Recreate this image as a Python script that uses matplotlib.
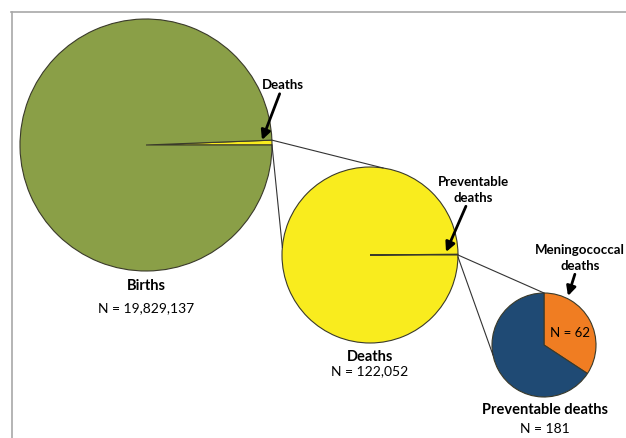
import numpy as np
import matplotlib
matplotlib.use("Agg")
import matplotlib.pyplot as plt

plt.rcParams['font.family'] = ['Lato', 'DejaVu Sans']

# Data
births_total = 19829137
deaths_total = 122052
preventable_total = 181
meningococcal = 62

births_labels = ["Births", "N = 19,829,137"]
deaths_labels = ["Deaths", "N = 122,052"]
prev_labels = ["Preventable deaths", "N = 181"]

W, H = 626, 438
fig = plt.figure(figsize=(W / 100, H / 100), dpi=100)
ax = fig.add_axes([0, 0, 1, 1])

def Y(y):
    return H - y

green = "#8A9F47"
yellow = "#F9EC1E"
navy = "#1F4A74"
orange = "#F07D22"
edge = "#3a3a2a"

c1, r1 = (146, Y(145)), 126
c2, r2 = (370, Y(255)), 88
c3, r3 = (544, Y(345)), 52

wp = dict(edgecolor=edge, linewidth=0.8)
ax.pie([deaths_total, births_total - deaths_total], colors=[yellow, green],
       startangle=0, counterclock=True, center=c1, radius=r1, wedgeprops=wp, frame=True)
ax.pie([preventable_total, deaths_total - preventable_total], colors=[yellow, yellow],
       startangle=0, counterclock=True, center=c2, radius=r2,
       wedgeprops=dict(edgecolor=edge, linewidth=0.8), frame=True)
ax.pie([meningococcal, preventable_total - meningococcal], colors=[orange, navy],
       startangle=90, counterclock=False, center=c3, radius=r3, wedgeprops=wp, frame=True)

def pt(c, r, ang):
    a = np.deg2rad(ang)
    return c[0] + r * np.cos(a), c[1] + r * np.sin(a)

ang_d = deaths_total / births_total * 360
lc = "#333333"
# connectors births -> deaths
p1 = pt(c1, r1, ang_d); q1 = pt(c2, r2, 81.5)
p2 = pt(c1, r1, 0); q2 = pt(c2, r2, 175)
ax.plot([p1[0], q1[0]], [p1[1], q1[1]], color=lc, lw=0.8)
ax.plot([p2[0], q2[0]], [p2[1], q2[1]], color=lc, lw=0.8)
# connectors deaths -> preventable
p3 = pt(c2, r2, 0); q3 = pt(c3, r3, 90)
q4 = pt(c3, r3, 191)
ax.plot([p3[0], q3[0]], [p3[1], q3[1]], color=lc, lw=0.8)
ax.plot([p3[0], q4[0]], [p3[1] - 2, q4[1]], color=lc, lw=0.8)

fs = 10
arrow = dict(arrowstyle='-|>', lw=2, color='black', mutation_scale=14, shrinkA=0, shrinkB=0)
ax.annotate("Deaths", xy=(262, Y(140)), xytext=(283, Y(85)), ha='center', va='center',
            fontsize=9.5, fontweight='bold', arrowprops=arrow)
ax.annotate("Preventable\ndeaths", xy=(446, Y(252)), xytext=(473, Y(190)), ha='center', va='center',
            fontsize=9.5, fontweight='bold', arrowprops=arrow, linespacing=1.3)
ax.annotate("Meningococcal\ndeaths", xy=(568, Y(296)), xytext=(580, Y(258)), ha='center', va='center',
            fontsize=9.5, fontweight='bold', arrowprops=arrow, linespacing=1.3)

ax.text(146, Y(286), births_labels[0], ha='center', va='center', fontsize=10.5, fontweight='bold')
ax.text(146, Y(308), births_labels[1], ha='center', va='center', fontsize=fs)
ax.text(370, Y(357), deaths_labels[0], ha='center', va='center', fontsize=10.5, fontweight='bold')
ax.text(370, Y(371), deaths_labels[1], ha='center', va='center', fontsize=fs)
ax.text(545, Y(410), prev_labels[0], ha='center', va='center', fontsize=10.5, fontweight='bold')
ax.text(545, Y(429), prev_labels[1], ha='center', va='center', fontsize=fs)
ax.text(570, Y(333), "N = 62", ha='center', va='center', fontsize=9.5)

# frame lines
bc = "#A8A8A8"
ax.plot([11, W], [Y(12), Y(12)], color=bc, lw=1.2)
ax.plot([12, 12], [Y(12), 0], color=bc, lw=1.2)

ax.set_xlim(0, W)
ax.set_ylim(0, H)
ax.set_aspect('equal')
ax.axis('off')
fig.savefig("out.png", dpi=100)
